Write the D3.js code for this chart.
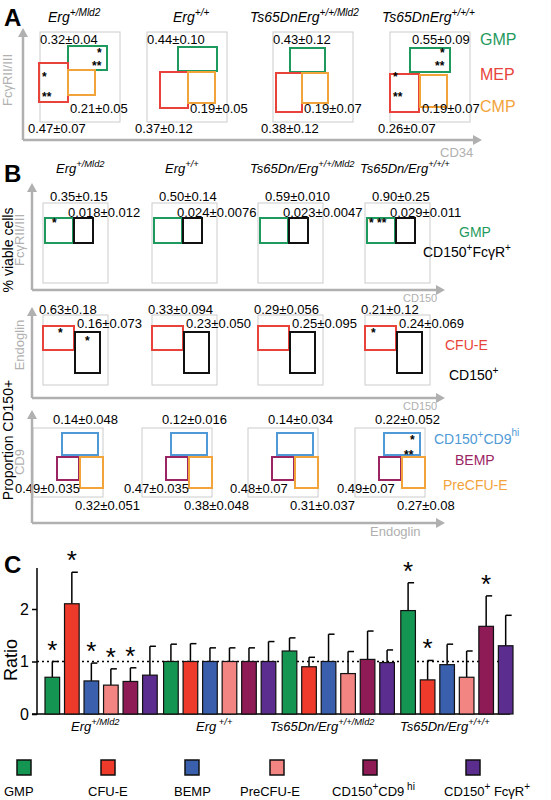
<!DOCTYPE html>
<html><head><meta charset="utf-8">
<script src="https://cdn.jsdelivr.net/npm/d3@7"></script>
<style>body{margin:0;background:#fff}text{font-family:Arial,"Liberation Sans",sans-serif}</style>
</head><body><svg id="s" width="551" height="800"></svg>
<script>
const cells=["GMP","CFU-E","BEMP","PreCFU-E","CD150+CD9hi","CD150+FcγR+"];
const colors=["#159552","#ee3a2b","#3a5fad","#f28482","#8e1b55","#5a2d8e"];
const groups=["Erg+/Mld2","Erg+/+","Ts65Dn/Erg+/+/Mld2","Ts65Dn/Erg+/+/+"];
const ratio=[[0.7,2.1,0.63,0.55,0.62,0.74],[1,1,1,1,1,1],[1.2,0.9,1.0,0.77,1.04,0.98],[1.97,0.65,0.94,0.7,1.67,1.3]];
const errTop=[[1.0,2.7,0.97,0.86,0.88,1.29],[1.33,1.34,1.26,1.26,1.26,1.38],[1.45,1.08,1.52,1.19,1.58,1.22],[2.5,1.02,1.33,1.2,2.25,1.88]];
const stars=[["*","*","*","*","*",""],["","","","","",""],["","","","","",""],["*","*","","","*",""]];
const aTop=["0.32±0.04","0.44±0.10","0.43±0.12","0.55±0.09"];
const aCMP=["0.21±0.05","0.19±0.05","0.19±0.07","0.19±0.07"];
const aMEP=["0.47±0.07","0.37±0.12","0.38±0.12","0.26±0.07"];
const b1a=["0.35±0.15","0.50±0.14","0.59±0.010","0.90±0.25"];
const b1b=["0.018±0.012","0.024±0.0076","0.023±0.0047","0.029±0.011"];
const b2a=["0.63±0.18","0.33±0.094","0.29±0.056","0.21±0.12"];
const b2b=["0.16±0.073","0.23±0.050","0.25±0.095","0.24±0.069"];
const b3a=["0.14±0.048","0.12±0.016","0.14±0.034","0.22±0.052"];
const b3b=["0.49±0.035","0.47±0.035","0.48±0.07","0.49±0.07"];
const b3c=["0.32±0.051","0.38±0.048","0.31±0.037","0.27±0.08"];

const svg=d3.select("#s");
const grey="#b0b0b0";
function txt(x,y,t,o={}){const e=svg.append("text").attr("x",x).attr("y",y).attr("font-size",o.size||13).attr("fill",o.fill||"#000").attr("text-anchor",o.anchor||"start");if(o.bold)e.attr("font-weight","bold");if(o.italic)e.attr("font-style","italic");if(o.rot)e.attr("transform",`rotate(-90,${x},${y})`);e.text(t);return e;}
function sup(x,y,base,s,o={}){const e=txt(x,y,"",o);e.append("tspan").text(base);e.append("tspan").attr("dy",-6).attr("font-size",(o.size||13)*0.72).text(s);return e;}
function arrowV(x,y0,y1){svg.append("line").attr("x1",x).attr("x2",x).attr("y1",y0).attr("y2",y1+8).attr("stroke",grey).attr("stroke-width",2.5);svg.append("path").attr("d",`M${x-5},${y1+9}L${x},${y1}L${x+5},${y1+9}Z`).attr("fill",grey);}
function arrowH(y,x0,x1){svg.append("line").attr("x1",x0).attr("x2",x1-8).attr("y1",y).attr("y2",y).attr("stroke",grey).attr("stroke-width",2.5);svg.append("path").attr("d",`M${x1-9},${y-5}L${x1},${y}L${x1-9},${y+5}Z`).attr("fill",grey);}
function rect(x,y,w,h,c,sw=2){svg.append("rect").attr("x",x).attr("y",y).attr("width",w).attr("height",h).attr("fill","none").attr("stroke",c).attr("stroke-width",sw);}
const GREEN="#1f9a5e",RED="#e8433a",ORANGE="#f2a33a",BLUE="#4f9ad6",PURP="#9b2463";

// Panel A
txt(4,26,"A",{size:24,bold:true});
const aTitles=[["Erg","+/Mld2",48],["Erg","+/+",173],["Ts65DnErg","+/+/Mld2",250],["Ts65DnErg","+/+/+",382]];
aTitles.forEach(t=>sup(t[2],22,t[0],t[1],{italic:true,size:14}));
const aX=[40,147,273,390];
const aG=[[[28,14,39,24],[-1,31,29,39],[28,38,27,25]],[[31,15,39,24],[13,40,28,36],[41,40,27,31]],[[17,16,35,24],[3,41,26,39],[29,41,26,30]],[[20,16,40,24],[0,42,29,38],[30,43,27,32]]];
aX.forEach((x,i)=>{rect(x,32,80,90,"#ccc",1);const g=aG[i];rect(x+g[0][0],32+g[0][1],g[0][2],g[0][3],GREEN);rect(x+g[1][0],32+g[1][1],g[1][2],g[1][3],RED);rect(x+g[2][0],32+g[2][1],g[2][2],g[2][3],ORANGE);
 txt(x+(i==3?22:0),44,aTop[i],{size:13});txt(x+g[2][0]+2,113,aCMP[i],{size:13});txt(x-12,133,aMEP[i],{size:13});});
[[40,0],[390,3]].forEach(([x,i])=>{const g=aG[i];txt(x+g[0][0]+g[0][2]-10,57,"*",{size:12,bold:true});txt(x+g[0][0]+g[0][2]-15,70,"**",{size:12,bold:true});txt(x+g[1][0]+3,81,"*",{size:12,bold:true});txt(x+g[1][0]+3,101,"**",{size:12,bold:true});});
arrowV(23,140,28);arrowH(140,23,482);
txt(12,80,"FcγRII/III",{size:13,fill:grey,rot:true,anchor:"middle"});
txt(440,157,"CD34",{size:13,fill:grey});
txt(480,45,"GMP",{size:16,fill:GREEN});txt(480,80,"MEP",{size:16,fill:RED});txt(480,112,"CMP",{size:16,fill:ORANGE});

// Panel B
txt(4,182,"B",{size:24,bold:true});
const bTitles=[["Erg","+/Mld2",56],["Erg","+/+",165],["Ts65Dn/Erg","+/+/Mld2",250],["Ts65Dn/Erg","+/+/+",360]];
bTitles.forEach(t=>sup(t[2],173,t[0],t[1],{italic:true,size:13}));
const bX=[43,152,258,365];
bX.forEach((x,i)=>{
 rect(x,203,65,80,"#ccc",1);rect(x+2,218,28,25,GREEN);rect(x+31,218,19,25,"#111");
 txt(x+7,201,b1a[i]);txt(x+25,217,b1b[i]);
 rect(x,315,65,70,"#ccc",1);rect(x,326,31,24,RED);rect(x+32,332,25,41,"#111");
 txt(x-4,314,b2a[i]);txt(x+34,328,b2b[i]);
 rect(x-10,428,70,69,"#ccc",1);rect(x+19,433,36,22,BLUE);rect(x+14,457,22,23,PURP);rect(x+37,457,23,31,ORANGE);
 txt(x+10,424,b3a[i]);txt(x-28,493,b3b[i]);txt(x+32,510,b3c[i]);
});
txt(52,227,"*",{size:12,bold:true});txt(369,227,"*  **",{size:12,bold:true});
txt(58,337,"*",{size:12,bold:true});txt(85,345,"*",{size:12,bold:true});txt(371,337,"*",{size:12,bold:true});
txt(410,444,"*",{size:12,bold:true});txt(404,459,"**",{size:12,bold:true});
arrowV(32,290,183);arrowH(290,32,445);
arrowV(32,398,307);arrowH(398,32,445);
arrowV(32,523,410);arrowH(523,32,445);
txt(24,240,"FcγRII/III",{size:13,fill:grey,rot:true,anchor:"middle"});
txt(24,345,"Endoglin",{size:13,fill:grey,rot:true,anchor:"middle"});
txt(24,462,"CD9",{size:13,fill:grey,rot:true,anchor:"middle"});
txt(403,302,"CD150",{size:11,fill:grey});txt(403,410,"CD150",{size:11,fill:grey});txt(370,536,"Endoglin",{size:13,fill:grey});
txt(13,250,"% viable cells",{size:14,rot:true,anchor:"middle"});
txt(13,440,"Proportion CD150+",{size:14,rot:true,anchor:"middle"});
txt(459,237,"GMP",{size:14,fill:GREEN});
const c1=txt(423,257,"",{size:14});c1.append("tspan").text("CD150");c1.append("tspan").attr("dy",-6).attr("font-size",10).text("+");c1.append("tspan").attr("dy",6).text("FcγR");c1.append("tspan").attr("dy",-6).attr("font-size",10).text("+");
txt(445,350,"CFU-E",{size:14,fill:RED});
sup(449,380,"CD150","+",{size:14});
const c2=txt(434,444,"",{size:14,fill:BLUE});c2.append("tspan").text("CD150");c2.append("tspan").attr("dy",-6).attr("font-size",10).text("+");c2.append("tspan").attr("dy",6).text("CD9");c2.append("tspan").attr("dy",-8).attr("font-size",10).text("hi");
txt(455,465,"BEMP",{size:14,fill:PURP});
txt(443,490,"PreCFU-E",{size:14,fill:ORANGE});

// Panel C
txt(4,573,"C",{size:24,bold:true});
const y=d3.scaleLinear().domain([0,2]).range([714,609]);
const gx=d3.scaleBand().domain(groups).range([45,517]).paddingInner(0.02);
const bx=d3.scaleBand().domain(cells).range([0,gx.bandwidth()-4]).paddingInner(0.25);
const ax=svg.append("g").attr("transform","translate(37,0)").call(d3.axisLeft(y).tickValues([0,1,2]).tickFormat(d3.format("d")).tickSize(5));
ax.select(".domain").attr("stroke-width",1.5).attr("d",`M-5,${y(0)}H0V568`);
ax.selectAll("text").attr("font-size",16).attr("font-family","Arial");
ax.selectAll("line").attr("stroke-width",1.5);
svg.append("line").attr("x1",37).attr("x2",510).attr("y1",y(0)).attr("y2",y(0)).attr("stroke","#000").attr("stroke-width",1.5);
svg.append("line").attr("x1",37).attr("x2",512).attr("y1",y(1)).attr("y2",y(1)).attr("stroke","#000").attr("stroke-width",1.5).attr("stroke-dasharray","2,3");
txt(17,660,"Ratio",{size:18,rot:true,anchor:"middle"});
groups.forEach((g,gi)=>{cells.forEach((c,ci)=>{
 const x0=gx(g)+bx(c),w=bx.bandwidth(),v=ratio[gi][ci],e=errTop[gi][ci];
 svg.append("line").attr("x1",x0+w/2).attr("x2",x0+w/2).attr("y1",y(v)).attr("y2",y(e)).attr("stroke","#000").attr("stroke-width",1.5);
 svg.append("line").attr("x1",x0+w/2).attr("x2",x0+w/2+6).attr("y1",y(e)).attr("y2",y(e)).attr("stroke","#000").attr("stroke-width",1.5);
 svg.append("rect").attr("x",x0).attr("y",y(v)).attr("width",w).attr("height",y(0)-y(v)).attr("fill",colors[ci]).attr("stroke","#111").attr("stroke-width",1.2);
 if(stars[gi][ci])txt(x0+w/2,y(e)-3,"*",{size:26,anchor:"middle"});
});});
const gl=[["Erg","+/Mld2",71],["Erg"," +/+",196],["Ts65Dn/Erg","+/+/Mld2",270],["Ts65Dn/Erg","+/+/+",400]];
gl.forEach(t=>sup(t[2],731,t[0],t[1],{italic:true,size:13}));
const lx=[17,101,185,270,363,466];
cells.forEach((c,i)=>{svg.append("rect").attr("x",lx[i]).attr("y",760).attr("width",14).attr("height",15).attr("fill",colors[i]).attr("stroke","#111").attr("stroke-width",1.5);});
const ll=[[4,"GMP"],[88,"CFU-E"],[174,"BEMP"],[240,"PreCFU-E"]];
ll.forEach(l=>txt(l[0],796,l[1],{size:13}));
const l5=txt(332,796,"",{size:13});l5.append("tspan").text("CD150");l5.append("tspan").attr("dy",-6).attr("font-size",10).text("+");l5.append("tspan").attr("dy",6).text("CD9");l5.append("tspan").attr("dy",-6).attr("font-size",10).text(" hi");
const l6=txt(444,796,"",{size:13});l6.append("tspan").text("CD150");l6.append("tspan").attr("dy",-6).attr("font-size",10).text("+");l6.append("tspan").attr("dy",6).text(" FcγR");l6.append("tspan").attr("dy",-6).attr("font-size",10).text("+");
</script></body></html>
